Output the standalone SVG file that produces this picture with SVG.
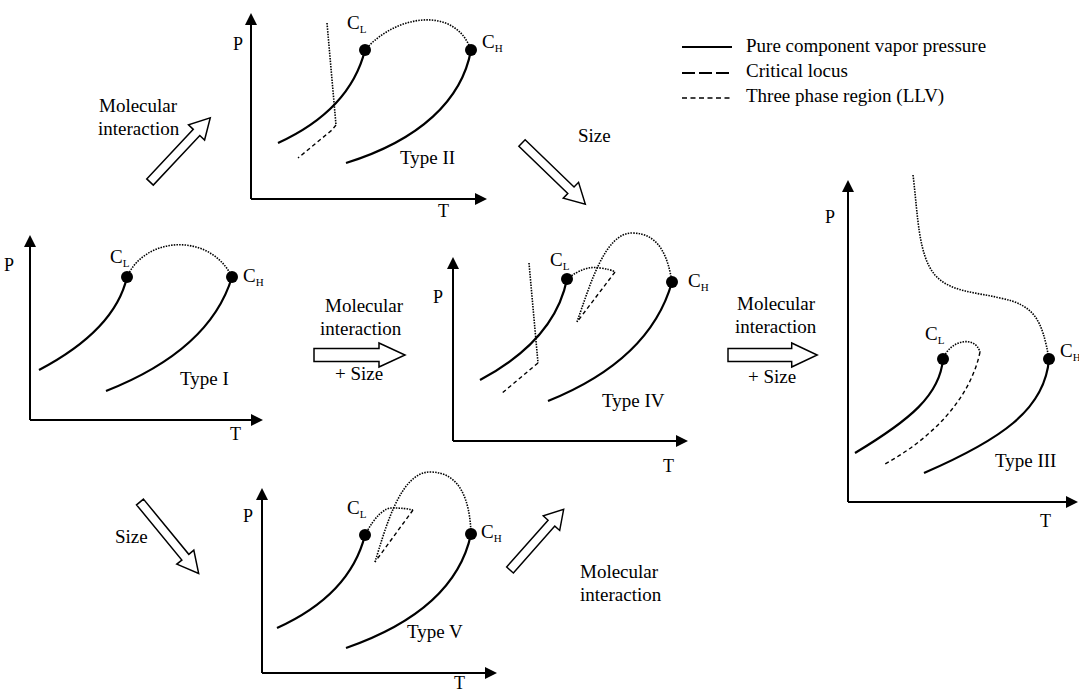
<svg xmlns="http://www.w3.org/2000/svg" width="1079" height="693" viewBox="0 0 1079 693">
<style>
.ax{stroke:#000;stroke-width:2;fill:none;marker-end:url(#ah)}
.vp{stroke:#000;stroke-width:2.2;fill:none}
.cl{stroke:#000;stroke-width:1.6;fill:none;stroke-dasharray:1.5 1.2}
.tp{stroke:#000;stroke-width:1.4;fill:none;stroke-dasharray:4 3}
.dot{fill:#000}
text{font-family:"Liberation Serif","Times New Roman",serif;fill:#000}
.t{font-size:19px}
.pt{font-size:18px}
.c{font-size:19px}
.s{font-size:11px}
.arr{fill:#fff;stroke:#000;stroke-width:1.5}
</style>
<defs>
<marker id="ah" viewBox="0 0 12 12" refX="2" refY="6" markerWidth="12" markerHeight="12" orient="auto" markerUnits="userSpaceOnUse"><path d="M0,0 L12,6 L0,12 Z" fill="#000"/></marker>
<path id="blk" d="M0,-6.5 H65 V-12 L91,0 L65,12 V6.5 H0 Z"/>
<path id="blk2" d="M0,-4.5 H68 V-11 L88,0 L68,11 V4.5 H0 Z"/>
</defs>
<rect width="1079" height="693" fill="#fff"/>

<g id="legend">
<line x1="682" y1="47" x2="732" y2="47" stroke="#000" stroke-width="2"/>
<line x1="682" y1="73" x2="732" y2="73" stroke="#000" stroke-width="2" stroke-dasharray="13 4"/>
<line x1="682" y1="98" x2="732" y2="98" stroke="#000" stroke-width="1.5" stroke-dasharray="5 3.5"/>
<text class="t" x="746" y="52">Pure component vapor pressure</text>
<text class="t" x="746" y="77">Critical locus</text>
<text class="t" x="746" y="102">Three phase region (LLV)</text>
</g>

<g id="typeI">
<path class="ax" d="M30,420 V245"/>
<path class="ax" d="M30,420 H253"/>
<text class="pt" x="4" y="271">P</text>
<text class="pt" x="230" y="440">T</text>
<path class="vp" d="M127,277 Q115,330 39,370"/>
<path class="vp" d="M232,277 Q210,350 106,391"/>
<path class="cl" d="M127,277 C145,236 210,232 232,277"/>
<circle class="dot" cx="127" cy="277" r="6"/>
<circle class="dot" cx="232" cy="277" r="6"/>
<text class="c" x="110" y="263">C<tspan class="s" dy="4">L</tspan></text>
<text class="c" x="243" y="282">C<tspan class="s" dy="4">H</tspan></text>
<text class="t" x="180" y="385">Type I</text>
</g>

<g id="typeII">
<path class="ax" d="M251,199 V23"/>
<path class="ax" d="M251,199 H477"/>
<text class="pt" x="233" y="50">P</text>
<text class="pt" x="438" y="217">T</text>
<path class="vp" d="M365,50 Q350,110 278,143"/>
<path class="vp" d="M471,50 C462,100 420,140 346,163"/>
<path class="cl" d="M365,50 C395,15 455,5 471,50"/>
<path class="cl" d="M327,23 L336,125"/>
<path class="tp" d="M336,125 L332,130 L298,158"/>
<circle class="dot" cx="365" cy="50" r="6"/>
<circle class="dot" cx="471" cy="50" r="6"/>
<text class="c" x="347" y="29">C<tspan class="s" dy="4">L</tspan></text>
<text class="c" x="482" y="48">C<tspan class="s" dy="4">H</tspan></text>
<text class="t" x="400" y="164">Type II</text>
</g>

<g id="typeIV">
<path class="ax" d="M453,441 V267"/>
<path class="ax" d="M453,441 H678"/>
<text class="pt" x="433" y="303">P</text>
<text class="pt" x="663" y="472">T</text>
<path class="vp" d="M567,279 Q555,340 480,380"/>
<path class="vp" d="M672,282 Q650,360 548,401"/>
<path class="cl" d="M577,322 C590,285 605,233 632,233 C660,233 668,258 672,282"/>
<path class="cl" d="M567,279 Q585,265 600,268 Q610,269 615,272"/>
<path class="tp" d="M615,272 L577,322"/>
<path class="cl" d="M529,263 L538,363"/>
<path class="tp" d="M538,363 L501,394"/>
<circle class="dot" cx="567" cy="279" r="6"/>
<circle class="dot" cx="672" cy="282" r="6"/>
<text class="c" x="550" y="266">C<tspan class="s" dy="4">L</tspan></text>
<text class="c" x="688" y="287">C<tspan class="s" dy="4">H</tspan></text>
<text class="t" x="602" y="407">Type IV</text>
</g>

<g id="typeIII">
<path class="ax" d="M848,502 V190"/>
<path class="ax" d="M848,502 H1068"/>
<text class="pt" x="825" y="223">P</text>
<text class="pt" x="1040" y="527">T</text>
<path class="vp" d="M943,359 C940,395 910,420 855,453"/>
<path class="vp" d="M1049,359 C1045,410 1000,440 924,473"/>
<path class="tp" d="M980,352 C970,400 930,440 883,465"/>
<path class="cl" d="M943,359 C950,340 975,335 980,352"/>
<path class="cl" d="M913,175 C918,215 918,255 935,275 C950,292 975,292 1000,298 C1035,305 1042,320 1049,359"/>
<circle class="dot" cx="943" cy="359" r="6"/>
<circle class="dot" cx="1049" cy="359" r="6"/>
<text class="c" x="925" y="340">C<tspan class="s" dy="4">L</tspan></text>
<text class="c" x="1060" y="357">C<tspan class="s" dy="4">H</tspan></text>
<text class="t" x="995" y="467">Type III</text>
</g>

<g id="typeV">
<path class="ax" d="M262,673 V498"/>
<path class="ax" d="M262,673 H487"/>
<text class="pt" x="243" y="522">P</text>
<text class="pt" x="454" y="689">T</text>
<path class="vp" d="M365,535 Q350,595 277,628"/>
<path class="vp" d="M471,534 Q455,610 346,648"/>
<path class="cl" d="M375,562 C385,530 400,472 430,472 C460,472 470,500 471,534"/>
<path class="cl" d="M365,535 Q380,507 393,508 Q405,508 413,510"/>
<path class="tp" d="M413,510 L375,562"/>
<circle class="dot" cx="365" cy="535" r="6"/>
<circle class="dot" cx="471" cy="534" r="6"/>
<text class="c" x="347" y="514">C<tspan class="s" dy="4">L</tspan></text>
<text class="c" x="481" y="538">C<tspan class="s" dy="4">H</tspan></text>
<text class="t" x="407" y="638">Type V</text>
</g>

<g id="connectors">
<use href="#blk2" class="arr" transform="translate(150,182) rotate(-46.8)"/>
<use href="#blk2" class="arr" transform="translate(522,143) rotate(44)"/>
<use href="#blk2" class="arr" transform="translate(140,502) rotate(50.6) scale(1.05,1)"/>
<use href="#blk2" class="arr" transform="translate(510,570) rotate(-48.5) scale(0.92,1)"/>
<use href="#blk" class="arr" transform="translate(314,355)"/>
<use href="#blk" class="arr" transform="translate(728,355) scale(0.98,1)"/>
<text class="t" x="99" y="112">Molecular</text>
<text class="t" x="98" y="135">interaction</text>
<text class="t" x="325" y="312">Molecular</text>
<text class="t" x="320" y="335">interaction</text>
<text class="t" x="335" y="380">+ Size</text>
<text class="t" x="578" y="142">Size</text>
<text class="t" x="737" y="310">Molecular</text>
<text class="t" x="735" y="333">interaction</text>
<text class="t" x="748" y="383">+ Size</text>
<text class="t" x="115" y="543">Size</text>
<text class="t" x="580" y="578">Molecular</text>
<text class="t" x="580" y="601">interaction</text>
</g>
</svg>
